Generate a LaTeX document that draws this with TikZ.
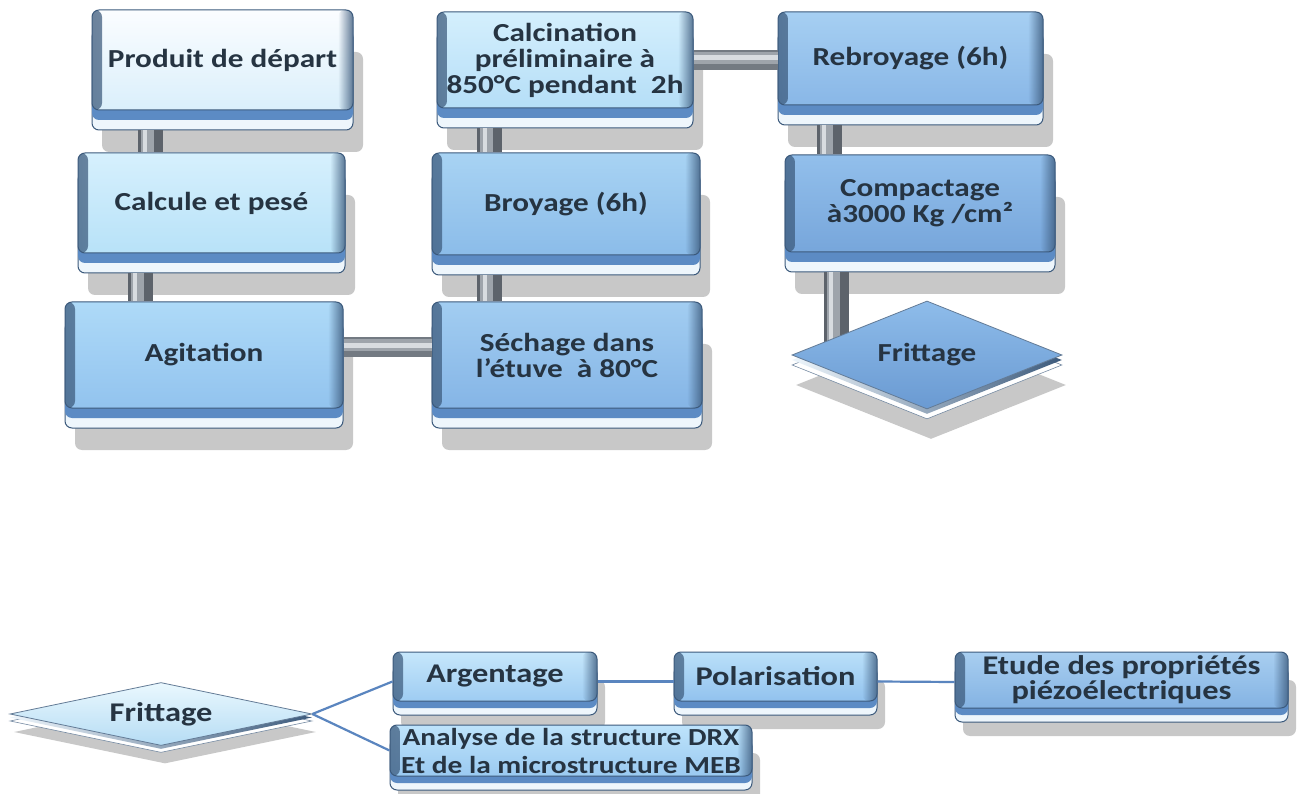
\documentclass[tikz,border=0pt]{standalone}
\usepackage{fontspec}
\setmainfont{Carlito}[FakeStretch=1.2]
\usetikzlibrary{shapes.geometric,shadows,fadings,calc}
\definecolor{edgec}{HTML}{3C5A7C}
\definecolor{rimc}{HTML}{EEF6FC}
\definecolor{bandc}{HTML}{5C8BC4}
\definecolor{txtc}{HTML}{263442}
\definecolor{shadc}{HTML}{C8C8C8}
\definecolor{barD}{HTML}{5D636B}
\definecolor{barM}{HTML}{9EA4AB}
\definecolor{barL}{HTML}{D8DCE0}
\definecolor{hbarD}{HTML}{737A82}
\definecolor{linec}{HTML}{5A85BF}
\definecolor{prodA}{HTML}{FBFDFF}\definecolor{prodB}{HTML}{DAEFFB}
\definecolor{calcA}{HTML}{D6F0FD}\definecolor{calcB}{HTML}{B8E2F8}
\definecolor{agitA}{HTML}{AEDAF8}\definecolor{agitB}{HTML}{92C3EE}
\definecolor{calcinA}{HTML}{D4EFFD}\definecolor{calcinB}{HTML}{B5DEF7}
\definecolor{broyA}{HTML}{A8D3F3}\definecolor{broyB}{HTML}{8BBCE9}
\definecolor{sechA}{HTML}{A2CDF1}\definecolor{sechB}{HTML}{85B5E6}
\definecolor{rebA}{HTML}{A6CFF2}\definecolor{rebB}{HTML}{89B7E7}
\definecolor{compA}{HTML}{92BFEB}\definecolor{compB}{HTML}{77A6DB}
\definecolor{frA}{HTML}{8EBCEA}\definecolor{frB}{HTML}{6A9AD2}
\definecolor{argA}{HTML}{C6E7FB}\definecolor{argB}{HTML}{9ECCF2}
\definecolor{polA}{HTML}{BAE0F9}\definecolor{polB}{HTML}{92C2EE}
\definecolor{etuA}{HTML}{A8CEF0}\definecolor{etuB}{HTML}{84B3E3}
\definecolor{anaA}{HTML}{BEE3FB}\definecolor{anaB}{HTML}{9ACAF1}
\definecolor{frtA}{HTML}{EAF8FE}\definecolor{frtB}{HTML}{B5DCF4}
\tikzfading[name=fadeR, left color=transparent!0, right color=transparent!100]
\tikzfading[name=fadeL, left color=transparent!100, right color=transparent!0]
\tikzset{
  bevelbox/.style 2 args={rectangle, rounded corners=7pt, inner sep=1pt, align=center,
    text=txtc, top color=#1, bottom color=#2, draw=edgec, line width=1pt,
    path picture={
      \fill[edgec, path fading=fadeR, opacity=.75] (path picture bounding box.south west) rectangle ([xshift=10pt]path picture bounding box.north west);
      \fill[edgec, path fading=fadeL, opacity=.8] ([xshift=-15pt]path picture bounding box.south east) rectangle (path picture bounding box.north east);
    }},
  bevelgem/.style 2 args={diamond, shape aspect=2.6, inner sep=0pt, align=center,
    text=txtc, top color=#1, bottom color=#2, draw=edgec!80, line width=.8pt},
  depth/.style n args={5}{% rim, band, shadow x, shadow y, band colour
    drop shadow={shadow xshift=#3, shadow yshift=#4, fill=shadc, opacity=1},
    general shadow={shadow yshift=#1, fill=rimc, draw=edgec, line width=1pt},
    general shadow={shadow yshift=#2, fill=#5}},
  gemdepth/.style n args={4}{% rim, band, shadow x, shadow y
    drop shadow={shadow xshift=#3, shadow yshift=#4, fill=shadc, opacity=1},
    general shadow={shadow yshift=#1, fill=white, draw=edgec!70, line width=.6pt},
    general shadow={shadow yshift=#2, left color=rimc, right color=edgec}},
  bigdepth/.style={depth={-20pt}{-10pt}{10pt}{-42pt}{bandc}},
  smalldepth/.style={depth={-14pt}{-7pt}{8pt}{-28pt}{bandc}},
  topfont/.style={font=\bfseries\fontsize{26}{26}\selectfont},
  lowfont/.style={font=\bfseries\fontsize{27}{25}\selectfont},
  vbar/.style={line width=25pt, draw=barD,
    postaction={draw=barM, line width=13pt, transform canvas={xshift=-3pt}},
    postaction={draw=barL, line width=4pt, transform canvas={xshift=-5pt}}},
  hbar/.style={line width=20pt, draw=hbarD,
    postaction={draw=barM, line width=12pt, transform canvas={yshift=2pt}},
    postaction={draw=barL, line width=5pt, transform canvas={yshift=2pt}}},
  link/.style={draw=linec, line width=2.2pt},
}
\begin{document}
\begin{tikzpicture}[x=1pt, y=-1pt]
\fill[white] (0,0) rectangle (1307,794);
\useasboundingbox (0,0) rectangle (1307,794);

% top row boxes (face; rim below by 20pt)
\node[bigdepth, bevelbox={prodA}{prodB}, topfont, minimum width=261pt, minimum height=100pt] (prod) at (222.5,60) {Produit de départ};
\node[bigdepth, bevelbox={calcA}{calcB}, topfont, minimum width=267pt, minimum height=100pt] (calc) at (211.5,203) {Calcule et pesé};
\node[bigdepth, bevelbox={agitA}{agitB}, topfont, minimum width=278pt, minimum height=106pt] (agit) at (204,355) {Agitation};
\node[bigdepth, bevelbox={calcinA}{calcinB}, topfont, minimum width=256pt, minimum height=96pt] (calcin) at (565,60) {Calcination\\préliminaire à\\850°C pendant\ \ 2h};
\node[bigdepth, bevelbox={broyA}{broyB}, topfont, minimum width=268pt, minimum height=102pt] (broy) at (566,204) {Broyage (6h)};
\node[bigdepth, bevelbox={sechA}{sechB}, topfont, minimum width=270pt, minimum height=106pt] (sech) at (567,355) {Séchage dans\\l’étuve\ \ à 80°C};
\node[bigdepth, bevelbox={rebA}{rebB}, topfont, minimum width=265pt, minimum height=93pt] (rebroy) at (910.5,58.5) {Rebroyage (6h)};
\node[bigdepth, bevelbox={compA}{compB}, topfont, minimum width=270pt, minimum height=97pt] (compact) at (920,203.5) {Compactage\\à3000 Kg /cm²};

% bars
\coordinate (v1) at ([xshift=58.5pt, yshift=-20pt]prod.south west);
\draw[vbar] (v1) -- (v1 |- calc.north);
\coordinate (v2) at ([xshift=62.5pt, yshift=-20pt]calc.south west);
\draw[vbar] (v2) -- (v2 |- agit.north);
\coordinate (v3) at ([xshift=53pt, yshift=-20pt]calcin.south west);
\draw[vbar] (v3) -- (v3 |- broy.north);
\coordinate (v4) at ([xshift=58pt, yshift=-20pt]broy.south west);
\draw[vbar] (v4) -- (v4 |- sech.north);
\coordinate (v5) at ([xshift=51.5pt, yshift=-20pt]rebroy.south west);
\draw[vbar] (v5) -- (v5 |- compact.north);
\coordinate (v6) at ([xshift=51.5pt, yshift=-20pt]compact.south west);
\coordinate (frin) at (836.5,352);
\draw[vbar] (v6) -- (v6 |- frin);
\draw[hbar] (calcin.east) -- (calcin.east -| rebroy.west);
\coordinate (h2) at ([yshift=7.5pt]agit.east);
\draw[hbar] (h2) -- (h2 -| sech.west);

\node[gemdepth={-10pt}{-5pt}{4pt}{-30pt}, bevelgem={frA}{frB}, topfont, minimum width=270pt, minimum height=108pt] (fritt) at (927,355) {Frittage};

% bottom row
\node[gemdepth={-7pt}{-3.5pt}{4pt}{-18pt}, bevelgem={frtA}{frtB}, lowfont, minimum width=302pt, minimum height=54pt] (fritt2) at (161,714) {Frittage};
\node[smalldepth, bevelbox={argA}{argB}, lowfont, minimum width=204pt, minimum height=49pt] (arg) at (495,676.5) {Argentage};
\node[smalldepth, bevelbox={polA}{polB}, lowfont, minimum width=203pt, minimum height=49pt] (pol) at (775.5,676.5) {Polarisation};
\node[smalldepth, bevelbox={etuA}{etuB}, lowfont, minimum width=333pt, minimum height=56pt] (etude) at (1121.5,680) {Etude des propriétés\\piézoélectriques};
\node[smalldepth, bevelbox={anaA}{anaB}, font=\bfseries\fontsize{24.5}{28}\selectfont, minimum width=362pt, minimum height=51pt] (ana) at (571,750.5) {Analyse de la structure DRX\\Et de la microstructure MEB};

\draw[link] (fritt2.east) -- ([yshift=-5pt]arg.west);
\draw[link] (fritt2.east) -- (ana.west);
\draw[link] ([yshift=-5pt]arg.east) -- ([yshift=-5pt]pol.west);
\draw[link] ([yshift=-5pt]pol.east) -- ([yshift=-2pt]etude.west);
\end{tikzpicture}
\end{document}
